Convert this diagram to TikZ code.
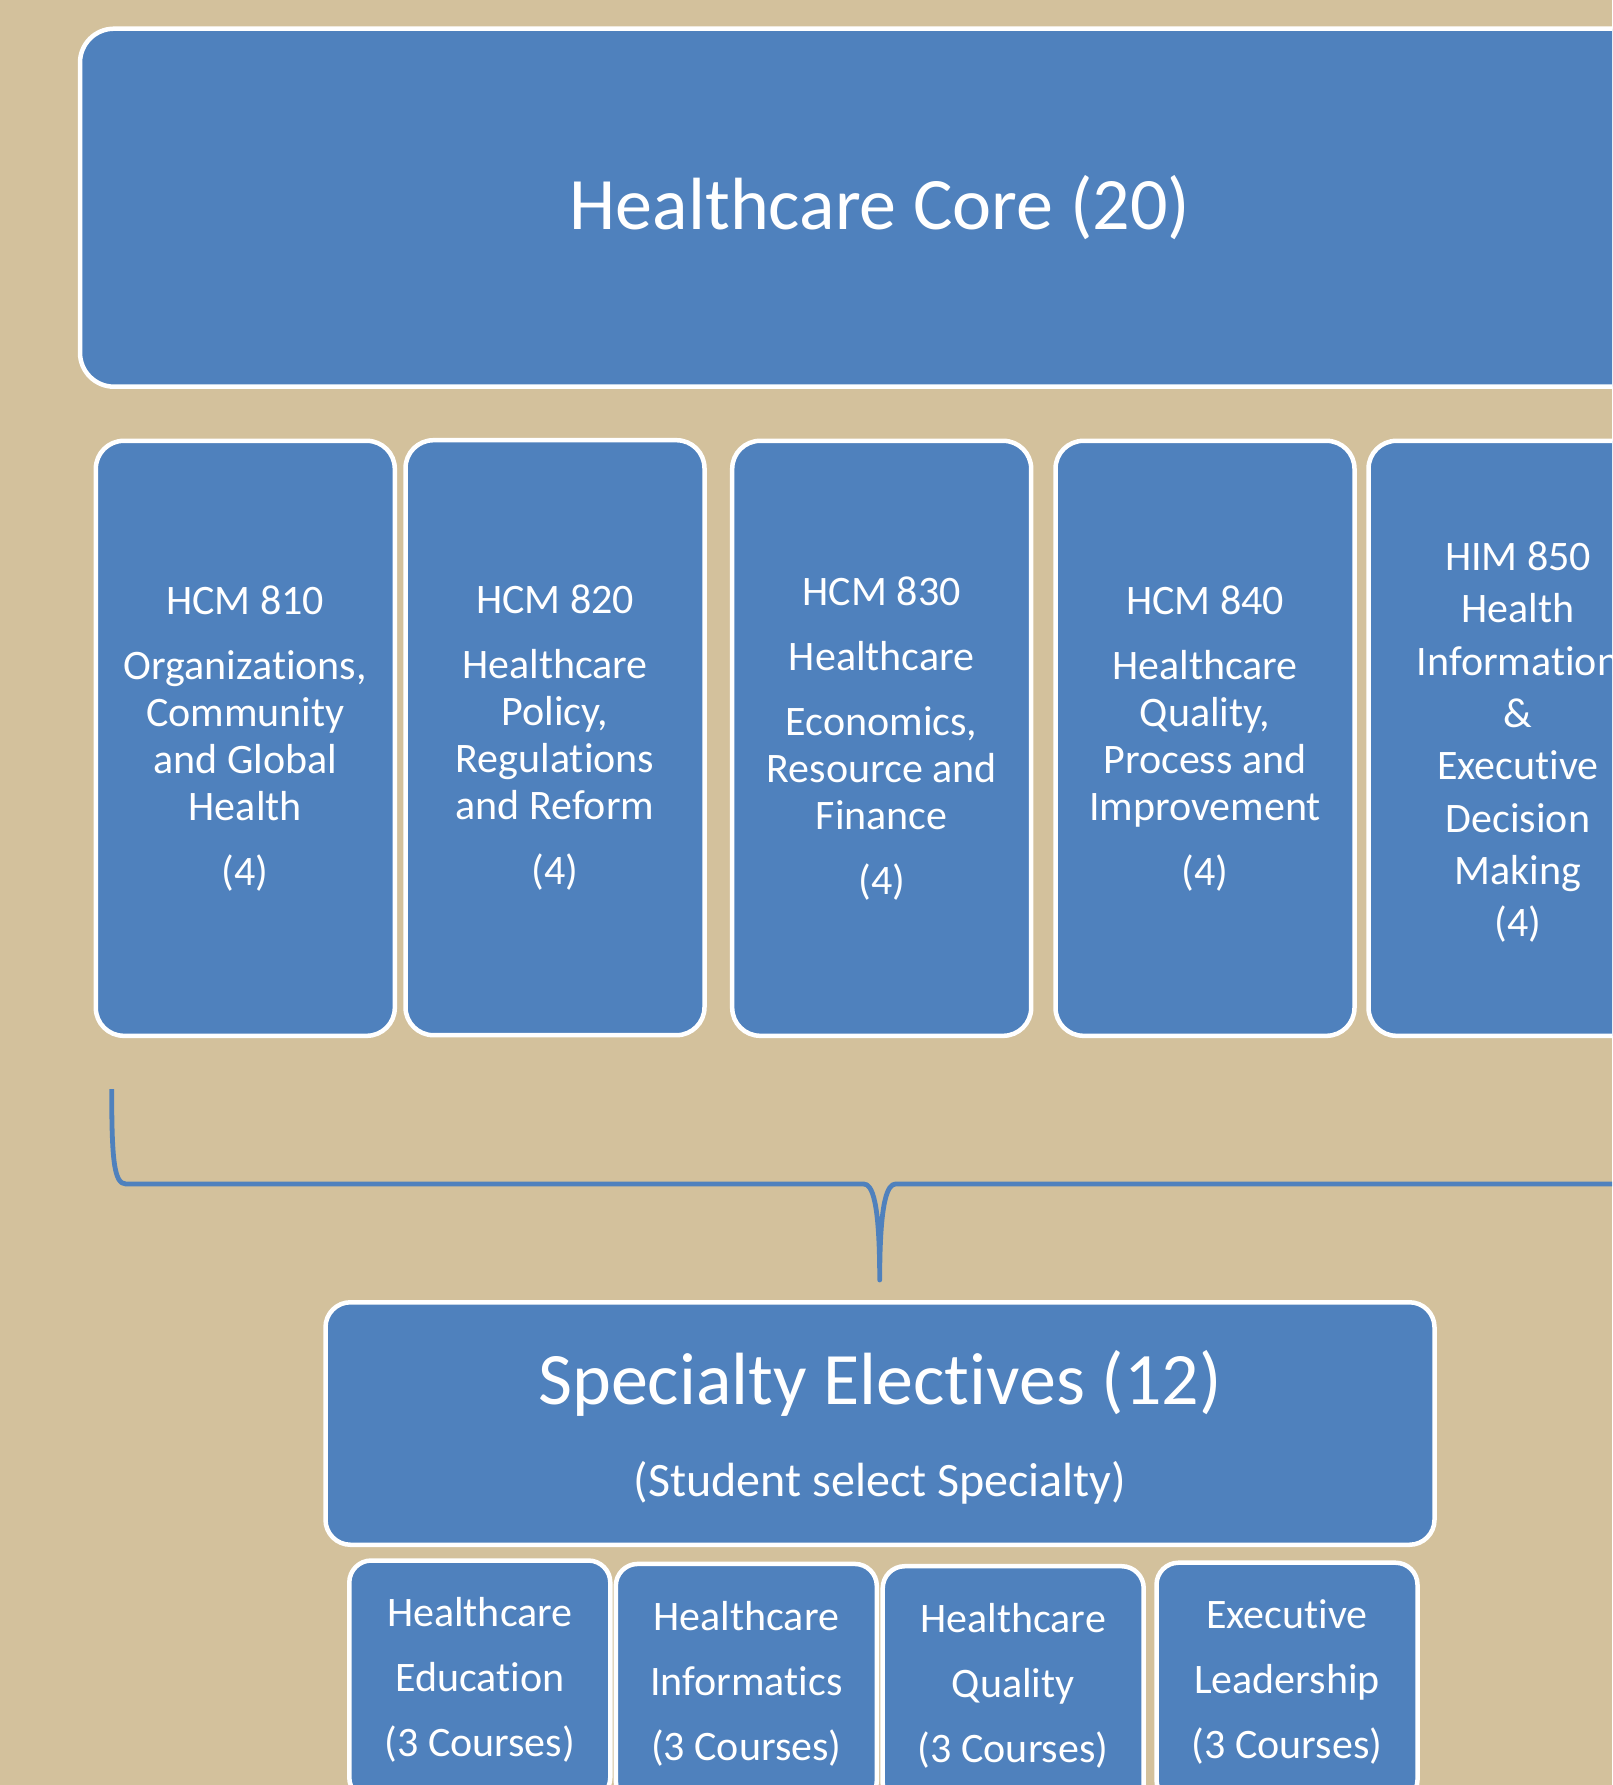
\documentclass[tikz,border=0pt]{standalone}
\usepackage{fontspec}
\setmainfont{Carlito}[Ligatures={NoCommon,NoRequired,NoContextual}]
\definecolor{bg}{RGB}{211,193,156}
\definecolor{hblue}{RGB}{79,129,189}
\begin{document}
\begin{tikzpicture}[x=1pt,y=-1pt,
  bluebox/.style={draw=white, line width=4.5pt, fill=hblue, inner sep=0pt, text=white, align=center},
  coursebox/.style={bluebox, rounded corners=28pt, minimum width=299pt, minimum height=595pt, font=\fontsize{42}{47}\selectfont},
  specbox/.style={bluebox, rounded corners=22pt, minimum width=261pt, minimum height=239pt, font=\fontsize{42}{65}\selectfont},
  brace/.style={draw=hblue, line width=4.8pt, line join=round}]
\useasboundingbox (0,0) rectangle (1612,1785);
\clip (0,0) rectangle (1612,1785);
\fill[bg] (0,0) rectangle (1612,1785);
% top box
\node[bluebox, rounded corners=34pt, minimum width=1598pt, minimum height=358pt] (core) at (879,207.7) {};
\node[text=white, anchor=base, font=\fontsize{74}{80}\selectfont] (coretitle) at (880,229.5) {Healthcare Core (20)};
% course boxes
\node[coursebox] (c810) at (245.3,738.3) {HCM 810\\[18pt]Organizations,\\Community\\and Global\\Health\\[18pt](4)};
\node[coursebox] (c820) at (555,737.7) {HCM 820\\[18pt]Healthcare\\Policy,\\Regulations\\and Reform\\[18pt](4)};
\node[coursebox] (c830) at (881.7,738.3) {HCM 830\\[18pt]Healthcare\\[18pt]Economics,\\Resource and\\Finance\\[18pt](4)};
\node[coursebox] (c840) at (1205,738.3) {HCM 840\\[18pt]Healthcare\\Quality,\\Process and\\Improvement\\[18pt](4)};
\node[coursebox] (c850) at (1518,738.3) {};
\node[text=white, align=center, inner sep=0pt, font=\fontsize{42}{52.3}\selectfont] (c850text) at (1518,742.3) {HIM 850\\Health\\Information\\\&\\Executive\\Decision\\Making\\(4)};
% brace
\coordinate (bl) at (111.7,1089);
\coordinate (tip) at (879.7,1280);
\coordinate (br) at (1700,1184);
\draw[brace] (bl) .. controls (111.7,1160) and (114,1184) .. (126,1184) -- (863.7,1184)
  .. controls (872,1184) and (879.7,1200) .. (tip)
  .. controls (879.7,1200) and (887.5,1184) .. (895.7,1184) -- (br);
% specialty
\node[bluebox, rounded corners=25pt, minimum width=1109pt, minimum height=242.5pt] (spec) at (880,1423.5) {};
\node[text=white, anchor=base, font=\fontsize{74}{80}\selectfont] (spectitle) at (880,1404.5) {Specialty Electives (12)};
\node[text=white, anchor=base, font=\fontsize{48}{56}\selectfont] (specsub) at (880,1496) {(Student select Specialty)};
% specialty boxes
\node[specbox] (s1) at (479.8,1680) {Healthcare\\Education\\(3 Courses)};
\node[specbox] (s2) at (746.3,1683.4) {Healthcare\\Informatics\\(3 Courses)};
\node[specbox] (s3) at (1013.2,1685.7) {Healthcare\\Quality\\(3 Courses)};
\node[specbox] (s4) at (1287,1682.2) {Executive\\Leadership\\(3 Courses)};
\end{tikzpicture}
\end{document}
